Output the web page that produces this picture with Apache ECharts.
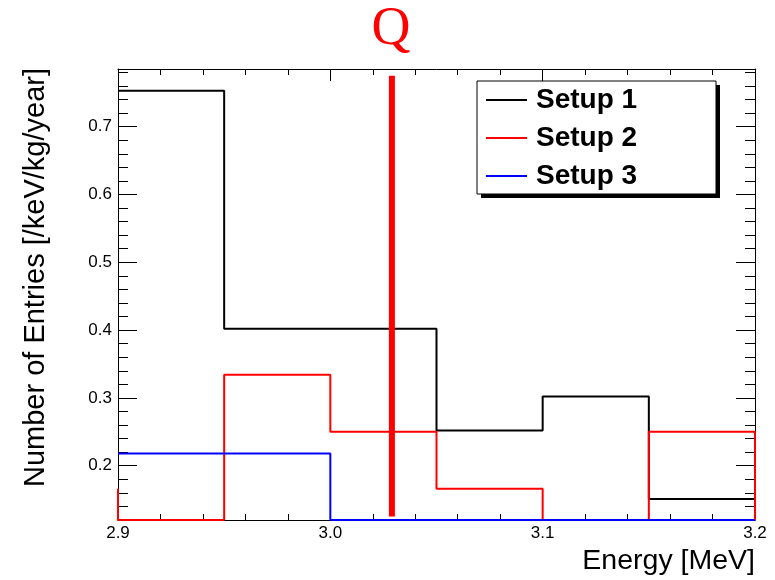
<!DOCTYPE html>
<html>
<head>
<meta charset="utf-8">
<script src="https://cdn.jsdelivr.net/npm/echarts@6/dist/echarts.min.js"></script>
<style>
html,body{margin:0;padding:0;background:#fff;}
#chart{width:775px;height:580px;}
</style>
</head>
<body>
<div id="chart"></div>
<script>
// ---- data ----
const binEdges = [2.90, 2.95, 3.00, 3.05, 3.10, 3.15, 3.20];
const setup1 = [0.753, 0.402, 0.402, 0.252, 0.302, 0.151];
const setup2 = [0.0, 0.334, 0.250, 0.166, 0.0, 0.250];
const setup2Underflow = 0.166;   // bin just below 2.90
const setup2Overflow = 0.0;      // bin just above 3.20
const setup3 = [0.218, 0.218, 0.0, 0.0, 0.0, 0.0];
const seriesNames = ['Setup 1', 'Setup 2', 'Setup 3'];
const qValue = 3.029;
const qRange = [0.125, 0.775];
const xMajor = [2.9, 3.0, 3.1, 3.2];
const yMajor = [0.2, 0.3, 0.4, 0.5, 0.6, 0.7];
const xRange = [2.9, 3.2];
const yRange = [0.12, 0.785];

// ---- helpers ----
const xMinor = [];
for (let k = 0; k <= 15; k++) {
  const v = Math.round((2.9 + 0.02 * k) * 1000) / 1000;
  if (!xMajor.some(m => Math.abs(m - v) < 1e-6)) xMinor.push(v);
}
const yMinor = [];
for (let k = 1; k <= 33; k++) {
  const v = Math.round((0.12 + 0.02 * k) * 1000) / 1000;
  if (v > yRange[1]) break;
  if (!yMajor.some(m => Math.abs(m - v) < 1e-6)) yMinor.push(v);
}
function clampY(v) { return Math.min(Math.max(v, yRange[0]), yRange[1]); }
function stepPoints(vals, under, over) {
  const pts = [];
  if (under !== undefined && under !== null) pts.push([binEdges[0], clampY(under)]);
  vals.forEach((v, i) => {
    pts.push([binEdges[i], clampY(v)]);
    pts.push([binEdges[i + 1], clampY(v)]);
  });
  if (over !== undefined && over !== null) pts.push([binEdges[binEdges.length - 1], clampY(over)]);
  return pts;
}

const FONT = 'Liberation Sans';
const lineCol = '#000';

function xAx(pos, major, showLine, showLabel) {
  const vals = major ? xMajor : xMinor;
  return {
    type: 'value', position: pos, min: xRange[0], max: xRange[1],
    splitLine: { show: false },
    axisLine: { show: showLine, lineStyle: { color: lineCol, width: 1 } },
    axisTick: { show: true, inside: true, length: major ? 12 : 6, customValues: vals,
                lineStyle: { color: lineCol, width: 1 } },
    axisLabel: { show: showLabel, customValues: xMajor, margin: 5,
                 formatter: v => v.toFixed(1), fontFamily: FONT, fontSize: 17, color: '#000' }
  };
}
function yAx(pos, major, showLine, showLabel) {
  const vals = major ? yMajor : yMinor;
  return {
    type: 'value', position: pos, min: yRange[0], max: yRange[1],
    splitLine: { show: false },
    axisLine: { show: showLine, lineStyle: { color: lineCol, width: 1 } },
    axisTick: { show: true, inside: true, length: major ? 19 : 10, customValues: vals,
                lineStyle: { color: lineCol, width: 1 } },
    axisLabel: { show: showLabel, customValues: yMajor, margin: 6,
                 formatter: v => v.toFixed(1), fontFamily: FONT, fontSize: 17, color: '#000' }
  };
}

const chart = echarts.init(document.getElementById('chart'), null, { renderer: 'canvas' });
const histStyle = (color) => ({
  type: 'line', xAxisIndex: 0, yAxisIndex: 0, symbol: 'none', clip: false,
  lineStyle: { color: color, width: 2 }, itemStyle: { color: color },
  animation: false, z: 3
});

chart.setOption({
  animation: false,
  backgroundColor: '#fff',
  grid: { left: 118, right: 20, top: 69, bottom: 60 },
  xAxis: [ xAx('bottom', true, true, true), xAx('bottom', false, false, false),
           xAx('top', true, true, false), xAx('top', false, false, false) ],
  yAxis: [ yAx('left', true, true, true), yAx('left', false, false, false),
           yAx('right', true, true, false), yAx('right', false, false, false) ],
  legend: {
    data: seriesNames, orient: 'vertical', left: 486, top: 86, padding: 0,
    itemGap: 10, itemWidth: 41, itemHeight: 2, z: 20, icon: 'rect',
    selectedMode: false,
    textStyle: { fontFamily: FONT, fontSize: 28, fontWeight: 'bold', color: '#000', padding: [0, 0, 0, 4] }
  },
  graphic: [
    { type: 'rect', z: 10, shape: { x: 481, y: 85, width: 239, height: 113 }, style: { fill: '#000' } },
    { type: 'rect', z: 11, shape: { x: 477, y: 81, width: 239, height: 113 }, style: { fill: '#fff', stroke: '#000', lineWidth: 1 } },
    { type: 'text', z: 12, x: 36, y: 68, rotation: Math.PI / 2,
      style: { text: 'Number of Entries [/keV/kg/year]', font: '29px "Liberation Sans"', fill: '#000',
               textAlign: 'right', textVerticalAlign: 'middle' } },
    { type: 'text', z: 12, x: 755, y: 561,
      style: { text: 'Energy [MeV]', font: '28.5px "Liberation Sans"', fill: '#000',
               textAlign: 'right', textVerticalAlign: 'middle' } },
    { type: 'text', z: 12, x: 391, y: 30,
      style: { text: 'Q', font: '54px "Liberation Serif"', fill: '#ff0000',
               textAlign: 'center', textVerticalAlign: 'middle' } }
  ],
  series: [
    Object.assign(histStyle('#000000'), { name: seriesNames[0], data: stepPoints(setup1) }),
    Object.assign(histStyle('#ff0000'), { name: seriesNames[1], data: stepPoints(setup2, setup2Underflow, setup2Overflow) }),
    Object.assign(histStyle('#0000ff'), { name: seriesNames[2], data: stepPoints(setup3) }),
    { type: 'line', name: 'Q', xAxisIndex: 0, yAxisIndex: 0, symbol: 'none', clip: false, z: 4,
      lineStyle: { color: '#ff0000', width: 6, cap: 'butt' }, itemStyle: { color: '#ff0000' },
      data: [[qValue, qRange[0]], [qValue, qRange[1]]] }
  ]
});
</script>
</body>
</html>
